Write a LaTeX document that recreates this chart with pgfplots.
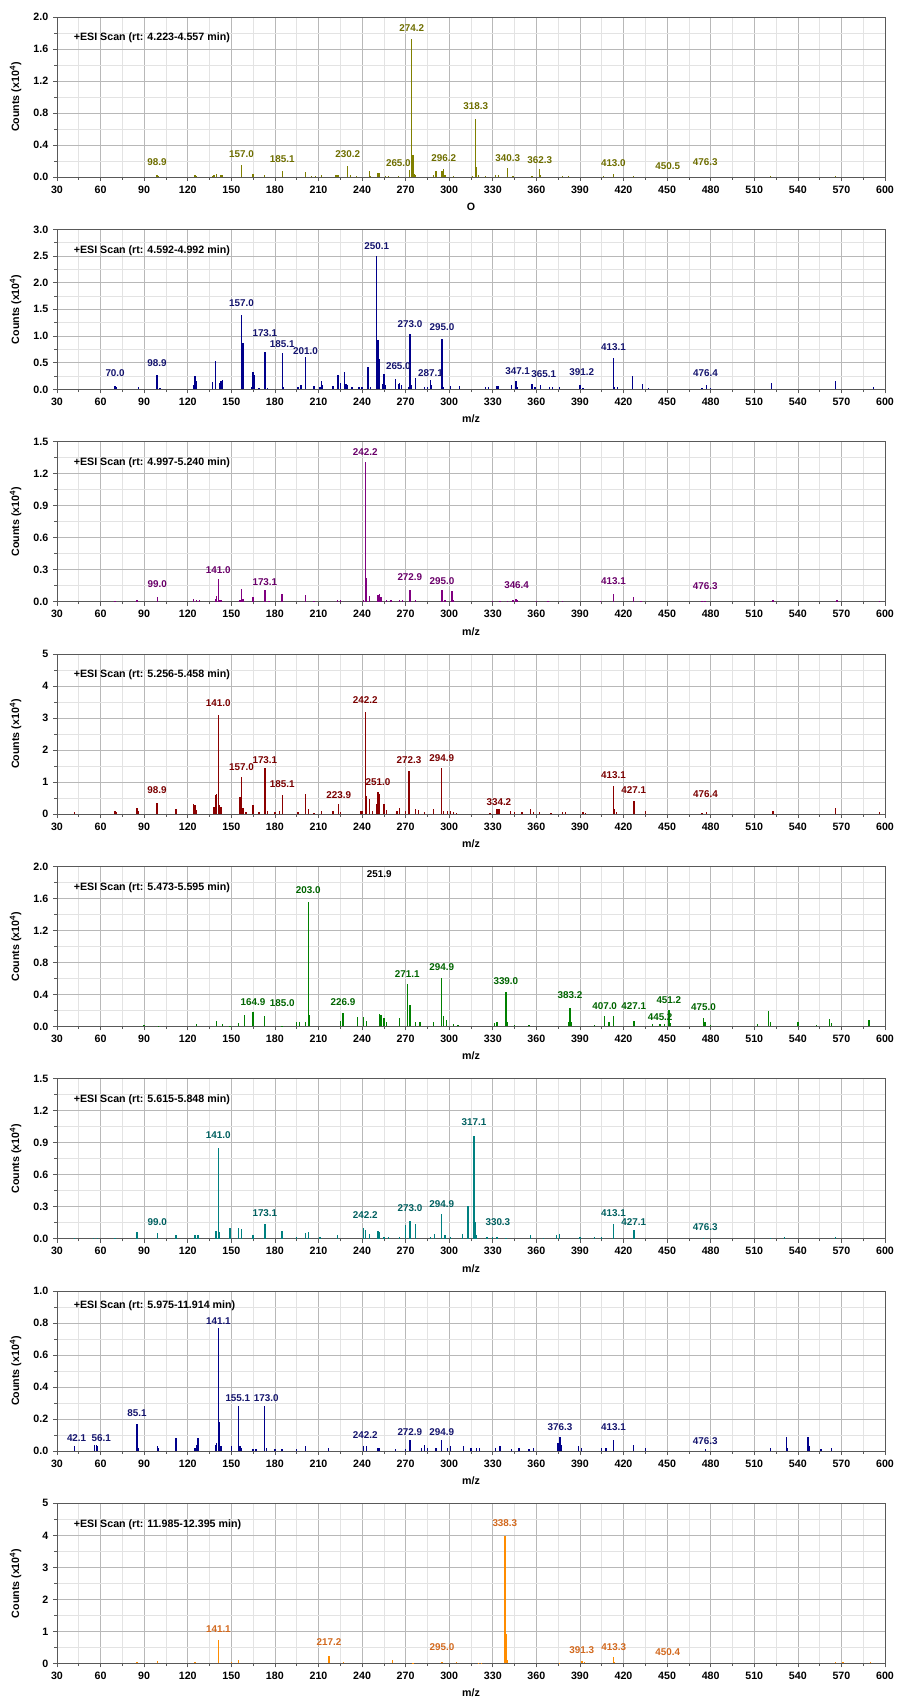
\documentclass[border=0pt]{standalone}
\usepackage{fontspec}
\setmainfont{Liberation Sans}
\usepackage{pgfplots}
\pgfplotsset{compat=1.18}

\definecolor{c1}{HTML}{808000}\definecolor{l1}{HTML}{6E6E00}
\definecolor{c2}{HTML}{00008B}\definecolor{l2}{HTML}{14146E}
\definecolor{c3}{HTML}{800080}\definecolor{l3}{HTML}{6A006A}
\definecolor{c4}{HTML}{8B0000}\definecolor{l4}{HTML}{7A0000}
\definecolor{c5}{HTML}{008000}\definecolor{l5}{HTML}{006400}
\definecolor{c6}{HTML}{008080}\definecolor{l6}{HTML}{006060}
\definecolor{c7}{HTML}{00008B}\definecolor{l7}{HTML}{14146E}
\definecolor{c8}{HTML}{FF8C00}\definecolor{l8}{HTML}{D2691E}

\newcommand{\fs}{\fontsize{8}{9.6}\selectfont\bfseries}
\newcommand{\fl}{\fontsize{7.4}{9}\selectfont\bfseries}
\newcommand{\pk}[3]{\node[font=\fl, text=#3, inner sep=0pt] at (axis cs:#1,#2) {#1};}
\newcommand{\pkat}[4]{\node[font=\fl, text=#4, inner sep=0pt] at (axis cs:#2,#3) {#1};}
\newcommand{\esi}[1]{\node[font=\fs, anchor=west, inner sep=0pt] at (rel axis cs:0.02,0.868) {#1};}

\pgfplotsset{
  ms/.style={
    scale only axis, width=621pt, height=120pt,
    anchor=north west,
    xmin=30, xmax=600, ymin=0,
    xtick={30,60,...,600}, minor x tick num=1, minor y tick num=1,
    grid=both,
    major grid style={draw=black!28, line width=0.5pt},
    minor grid style={draw=black!11, line width=0.5pt},
    axis line style={draw=black!65, line width=0.7pt},
    tick align=outside, tick pos=left,
    major tick length=3pt, minor tick length=2pt,
    tick style={draw=black!65, line width=0.5pt},
    ticklabel style={font=\fs},
    /pgf/number format/assume math mode=true,
    yticklabel style={/pgf/number format/.cd, fixed, fixed zerofill, precision=1},
    xticklabel style={/pgf/number format/.cd, fixed, precision=0},
    xlabel={m/z},
    ylabel={Counts (x10\textsuperscript{4})},
    xlabel style={font=\fs, at={(axis description cs:0.5,-0.185)}, anchor=center},
    ylabel style={font=\fs, at={(axis description cs:-0.05,0.5)}, anchor=center},
    clip=false,
  },
  int/.style={yticklabel style={/pgf/number format/.cd, fixed, precision=0}},
}

\begin{document}
\begin{tikzpicture}
\useasboundingbox (0,0) rectangle (672pt,-1274.25pt);

% ---------- Panel 1 ----------
\begin{axis}[ms, at={(42.75pt,-12.75pt)}, ymax=2, ytick={0,0.4,0.8,1.2,1.6,2.0}, xlabel={O}]
\addplot[ycomb, c1, line width=1pt] coordinates {
(98.9,0.02)(100,0.01)(125,0.02)(126,0.01)(137,0.01)(138,0.02)(140,0.04)(143,0.03)(144,0.02)
(157.0,0.15)(165,0.04)(173,0.03)(185.1,0.07)(201,0.06)(205,0.01)(208,0.01)(212,0.02)
(222,0.02)(223,0.03)(224,0.03)(230.2,0.14)(232,0.02)(236,0.01)(245,0.07)(246,0.01)
(251,0.05)(252,0.05)(256,0.01)(258,0.01)(265.0,0.01)(272.5,0.09)(274.2,1.72)(275,0.28)
(276,0.04)(277,0.02)(289,0.02)(291,0.07)(295,0.07)(296.2,0.10)(297,0.02)(303,0.01)
(316,0.01)(318.3,0.73)(319,0.13)(320,0.03)(325,0.01)(332,0.02)(334,0.02)(340.3,0.11)
(344,0.01)(357,0.01)(362.3,0.10)(363,0.03)(378,0.01)(382,0.01)(406,0.01)(413.0,0.04)
(427,0.01)(521,0.01)(566,0.01)};
\esi{+ESI Scan (rt: 4.223-4.557 min)}
\pk{98.9}{0.185}{l1}\pk{157.0}{0.28}{l1}\pk{185.1}{0.22}{l1}\pk{230.2}{0.28}{l1}
\pk{265.0}{0.17}{l1}\pk{274.2}{1.86}{l1}\pk{296.2}{0.24}{l1}\pk{318.3}{0.89}{l1}
\pk{340.3}{0.24}{l1}\pk{362.3}{0.21}{l1}\pk{413.0}{0.17}{l1}\pk{450.5}{0.14}{l1}
\pk{476.3}{0.18}{l1}
\end{axis}

% ---------- Panel 2 ----------
\begin{axis}[ms, at={(42.75pt,-172.0pt)}, ymax=3, ytick={0,0.5,1.0,1.5,2.0,2.5,3.0}]
\addplot[ycomb, c2, line width=1pt] coordinates {
(70,0.07)(71,0.04)(86,0.04)(98.9,0.26)(101,0.02)(124,0.08)(125,0.25)(126,0.15)
(137,0.13)(139,0.53)(142,0.12)(143,0.15)(144,0.17)(157.0,1.40)(158,0.87)(164,0.05)
(165,0.32)(166,0.27)(169,0.03)(173.1,0.70)(175,0.03)(185.1,0.68)(186,0.04)(196,0.04)(198,0.08)
(201.0,0.60)(207,0.07)(211,0.05)(212,0.15)(213,0.08)(220,0.06)(223,0.27)(224,0.27)
(225,0.12)(228,0.33)(229,0.10)(230,0.08)(233,0.05)(238,0.04)(240,0.04)(244,0.42)
(246,0.05)(250.1,2.50)(251,0.93)(252,0.56)(254,0.10)(255,0.28)(256,0.08)(263,0.20)
(265.0,0.10)(266,0.12)(267,0.08)(272,0.05)(273.0,1.04)(274,0.09)(277,0.21)(283,0.04)
(285,0.05)(287.1,0.17)(288,0.08)(295.0,0.95)(296,0.05)(301,0.06)(307,0.06)(325,0.04)
(327,0.05)(333,0.07)(334,0.07)(343,0.08)(346,0.15)(347,0.05)(357,0.10)(359,0.04)
(363,0.09)(369,0.04)(371,0.04)(376,0.04)(390,0.09)(392,0.03)(413.1,0.58)(414,0.05)
(416,0.04)(426,0.25)(433,0.10)(437,0.02)(474,0.03)(477,0.08)(480,0.03)(522,0.12)
(566,0.16)(592,0.04)};
\esi{+ESI Scan (rt: 4.592-4.992 min)}
\pk{70.0}{0.31}{l2}\pk{98.9}{0.50}{l2}\pk{157.0}{1.62}{l2}\pk{173.1}{1.05}{l2}
\pk{185.1}{0.85}{l2}\pk{201.0}{0.71}{l2}\pk{250.1}{2.69}{l2}\pk{265.0}{0.43}{l2}
\pk{273.0}{1.23}{l2}\pk{287.1}{0.31}{l2}\pk{295.0}{1.17}{l2}\pk{347.1}{0.34}{l2}
\pk{365.1}{0.28}{l2}\pk{391.2}{0.32}{l2}\pk{413.1}{0.80}{l2}\pk{476.4}{0.31}{l2}
\end{axis}

% ---------- Panel 3 ----------
\begin{axis}[ms, at={(42.75pt,-331.3pt)}, ymax=1.5, ytick={0,0.3,0.6,0.9,1.2,1.5}]
\addplot[ycomb, c3, line width=1pt] coordinates {
(70,0.01)(85,0.02)(99.0,0.04)(124,0.03)(126,0.02)(128,0.02)(139,0.03)(140,0.05)
(141.0,0.21)(142,0.02)(143,0.02)(156,0.02)(157,0.12)(158,0.03)(165,0.04)(173.1,0.11)
(176,0.01)(185,0.07)(201,0.06)(207,0.01)(223,0.02)(225,0.02)(241,0.02)(242.2,1.31)
(243,0.22)(245,0.05)(251,0.06)(252,0.07)(253,0.04)(257,0.02)(260,0.02)(266,0.02)
(268,0.02)(272.9,0.11)(277,0.02)(295.0,0.11)(297,0.02)(302,0.10)(303,0.02)(330,0.01)
(335,0.01)(340,0.01)(344,0.02)(346,0.03)(347,0.02)(360,0.01)(368,0.01)(378,0.01)
(404,0.01)(413.1,0.07)(427,0.04)(432,0.01)(474,0.01)(476,0.01)(523,0.02)(567,0.02)
(596,0.01)};
\esi{+ESI Scan (rt: 4.997-5.240 min)}
\pk{99.0}{0.17}{l3}\pk{141.0}{0.30}{l3}\pk{173.1}{0.185}{l3}\pk{242.2}{1.40}{l3}
\pk{272.9}{0.23}{l3}\pk{295.0}{0.19}{l3}\pk{346.4}{0.16}{l3}\pk{413.1}{0.19}{l3}
\pk{476.3}{0.15}{l3}
\end{axis}

% ---------- Panel 4 ----------
\begin{axis}[ms, int, at={(42.75pt,-490.5pt)}, ymax=5, ytick={0,1,2,3,4,5}]
\addplot[ycomb, c4, line width=1pt] coordinates {
(42,0.05)(70,0.08)(71,0.05)(85,0.20)(86,0.10)(98.9,0.35)(112,0.17)(124,0.30)(125,0.27)
(126,0.12)(138,0.22)(139,0.60)(140,0.62)(141.0,3.10)(142,0.28)(143,0.22)(156,0.53)
(157.0,1.17)(158,0.18)(160,0.05)(165,0.29)(169,0.05)(173.1,1.45)(175,0.08)(180,0.05)
(183,0.08)(185.1,0.58)(196,0.05)(201,0.63)(203,0.17)(207,0.03)(212,0.10)(220,0.08)
(223.9,0.30)(225,0.05)(239,0.10)(240,0.08)(242.2,3.20)(243,0.55)(245,0.47)(247,0.10)
(250,0.30)(251.0,0.68)(252,0.62)(255,0.30)(257,0.12)(264,0.08)(266,0.20)(270,0.10)
(272.3,1.33)(277,0.15)(279,0.12)(283,0.05)(289,0.17)(294.9,1.45)(296,0.10)(299,0.10)
(301,0.08)(303,0.05)(305,0.03)(328,0.04)(333,0.17)(334.2,0.15)(342,0.10)(345,0.06)
(350,0.05)(356,0.15)(358,0.07)(362,0.07)(370,0.04)(378,0.07)(380,0.05)(392,0.05)
(394,0.04)(413.1,0.87)(414,0.15)(415,0.05)(427.1,0.42)(435,0.10)(474,0.04)(477,0.05)
(523,0.10)(566,0.20)(596,0.07)};
\esi{+ESI Scan (rt: 5.256-5.458 min)}
\pk{98.9}{0.76}{l4}\pk{141.0}{3.46}{l4}\pk{157.0}{1.47}{l4}\pk{173.1}{1.67}{l4}
\pk{185.1}{0.93}{l4}\pk{223.9}{0.60}{l4}\pk{242.2}{3.55}{l4}\pk{251.0}{1.00}{l4}
\pk{272.3}{1.67}{l4}\pk{294.9}{1.76}{l4}\pk{334.2}{0.37}{l4}\pk{413.1}{1.20}{l4}
\pk{427.1}{0.76}{l4}\pk{476.4}{0.63}{l4}
\end{axis}

% ---------- Panel 5 ----------
\begin{axis}[ms, at={(42.75pt,-649.8pt)}, ymax=2, ytick={0,0.4,0.8,1.2,1.6,2.0}]
\addplot[ycomb, c5, line width=1pt] coordinates {
(90,0.02)(100,0.01)(126,0.03)(140,0.07)(144,0.03)(149,0.01)(155,0.04)(159,0.14)
(164.9,0.18)(173,0.13)(185.0,0.01)(195,0.05)(197,0.05)(201,0.06)(203.0,1.55)(204,0.14)
(225,0.07)(226.9,0.17)(237,0.12)(241,0.12)(243,0.07)(252,0.15)(253,0.14)(255,0.10)
(257,0.05)(266,0.10)(271.1,0.53)(273,0.27)(277,0.05)(280,0.05)(289,0.05)(294.9,0.61)
(296,0.13)(298,0.08)(303,0.03)(306,0.02)(331,0.04)(333,0.05)(339.0,0.43)(340,0.05)
(345,0.02)(355,0.02)(382,0.05)(383.2,0.23)(384,0.06)(400,0.02)(407.0,0.13)(410,0.06)
(413,0.13)(427.1,0.07)(440,0.03)(445.2,0.03)(448,0.03)(451.2,0.20)(452,0.04)(475.0,0.10)
(476,0.05)(480,0.02)(512,0.03)(520,0.19)(521,0.06)(540,0.06)(553,0.02)(562,0.09)
(563,0.04)(589,0.08)};
\esi{+ESI Scan (rt: 5.473-5.595 min)}
\node[font=\fl, inner sep=0pt] at (axis cs:251.9,1.91) {251.9};
\pk{164.9}{0.30}{l5}\pk{185.0}{0.29}{l5}\pk{203.0}{1.71}{l5}\pk{226.9}{0.30}{l5}
\pk{271.1}{0.66}{l5}\pk{294.9}{0.74}{l5}\pk{339.0}{0.57}{l5}\pk{383.2}{0.39}{l5}
\pk{407.0}{0.26}{l5}\pk{427.1}{0.26}{l5}\pk{445.2}{0.12}{l5}\pk{451.2}{0.33}{l5}
\pk{475.0}{0.24}{l5}
\end{axis}

% ---------- Panel 6 ----------
\begin{axis}[ms, at={(42.75pt,-809.0pt)}, ymax=1.5, ytick={0,0.3,0.6,0.9,1.2,1.5}]
\addplot[ycomb, c6, line width=1pt] coordinates {
(42,0.01)(55,0.01)(58,0.01)(70,0.01)(85,0.06)(99.0,0.05)(112,0.03)(125,0.03)(127,0.03)
(139,0.07)(140,0.07)(141.0,0.85)(142,0.06)(149,0.10)(155,0.10)(157,0.09)(165,0.03)
(173.1,0.14)(185,0.07)(195,0.02)(201,0.05)(203,0.06)(211,0.02)(223,0.03)(241,0.10)
(242.2,0.08)(245,0.04)(251,0.07)(252,0.06)(255,0.02)(258,0.02)(266,0.02)(270,0.13)
(273.0,0.17)(277,0.14)(287,0.02)(290,0.04)(294.9,0.23)(297,0.03)(301,0.02)(309,0.04)
(313,0.31)(317.1,0.96)(318,0.16)(319,0.03)(326,0.02)(330,0.02)(333,0.02)(339,0.01)
(356,0.03)(365,0.01)(374,0.03)(376,0.04)(390,0.02)(400,0.02)(405,0.02)(413.1,0.14)
(427.1,0.08)(475,0.01)(521,0.01)(531,0.02)(566,0.02)};
\esi{+ESI Scan (rt: 5.615-5.848 min)}
\pk{99.0}{0.16}{l6}\pk{141.0}{0.97}{l6}\pk{173.1}{0.24}{l6}\pk{242.2}{0.22}{l6}
\pk{273.0}{0.29}{l6}\pk{294.9}{0.32}{l6}\pk{317.1}{1.09}{l6}
\pkat{330.3}{333.5}{0.16}{l6}
\pk{413.1}{0.24}{l6}\pk{427.1}{0.16}{l6}\pk{476.3}{0.11}{l6}
\end{axis}

% ---------- Panel 7 ----------
\begin{axis}[ms, at={(42.75pt,-968.3pt)}, ymax=1, ytick={0,0.2,0.4,0.6,0.8,1.0}]
\addplot[ycomb, c7, line width=1pt] coordinates {
(42.1,0.03)(56,0.04)(57,0.04)(58,0.03)(85.1,0.17)(86,0.02)(99,0.03)(100,0.02)(112,0.08)
(125,0.02)(126,0.04)(127,0.08)(139,0.04)(140,0.05)(141.1,0.77)(142,0.18)(143,0.03)
(150,0.03)(155.1,0.28)(156,0.03)(157,0.02)(165,0.01)(167,0.01)(173.0,0.28)(174,0.02)
(180,0.01)(185,0.01)(195,0.01)(201,0.03)(217,0.02)(241,0.03)(243,0.03)(251,0.02)
(252,0.02)(263,0.01)(270,0.01)(272.9,0.07)(281,0.02)(283,0.04)(285,0.02)(291,0.02)
(294.9,0.07)(299,0.02)(301,0.03)(310,0.03)(315,0.02)(319,0.02)(321,0.02)(332,0.02)
(335,0.03)(343,0.01)(348,0.02)(355,0.01)(358,0.02)(375,0.05)(376.3,0.09)(377,0.04)
(389,0.03)(391,0.02)(405,0.02)(408,0.02)(413.1,0.07)(427,0.04)(435,0.02)(476.3,0.01)
(521,0.02)(532,0.09)(533,0.02)(547,0.09)(548,0.03)(556,0.01)(563,0.02)};
\node[font=\fs, anchor=west, inner sep=0pt] at (rel axis cs:0.02,0.906) {+ESI Scan (rt: 5.975-11.914 min)};
\pkat{42.1}{43.5}{0.083}{l7}\pkat{56.1}{60.5}{0.083}{l7}\pk{85.1}{0.235}{l7}\pk{141.1}{0.81}{l7}
\pkat{155.1}{154.5}{0.33}{l7}\pkat{173.0}{174}{0.33}{l7}\pk{242.2}{0.10}{l7}\pk{272.9}{0.12}{l7}
\pk{294.9}{0.12}{l7}\pk{376.3}{0.15}{l7}\pk{413.1}{0.15}{l7}\pk{476.3}{0.064}{l7}
\end{axis}

% ---------- Panel 8 ----------
\begin{axis}[ms, int, at={(42.75pt,-1127.5pt)}, ymax=5, ytick={0,1,2,3,4,5}]
\addplot[ycomb, c8, line width=1pt] coordinates {
(85,0.04)(99,0.08)(125,0.04)(141.1,0.73)(150,0.04)(155,0.10)(217.2,0.23)(227,0.04)
(261,0.10)(275,0.02)(295.0,0.05)(305,0.03)(320,0.02)(322,0.02)(338.3,3.97)(339,0.92)
(340,0.12)(376,0.02)(391.3,0.06)(393,0.03)(413.3,0.20)(414,0.05)(566,0.03)(571,0.05)
(590,0.03)};
\esi{+ESI Scan (rt: 11.985-12.395 min)}
\pk{141.1}{1.06}{l8}\pk{217.2}{0.67}{l8}\pk{295.0}{0.52}{l8}\pk{338.3}{4.38}{l8}
\pk{391.3}{0.40}{l8}\pk{413.3}{0.52}{l8}\pk{450.4}{0.36}{l8}
\end{axis}
\end{tikzpicture}
\end{document}
